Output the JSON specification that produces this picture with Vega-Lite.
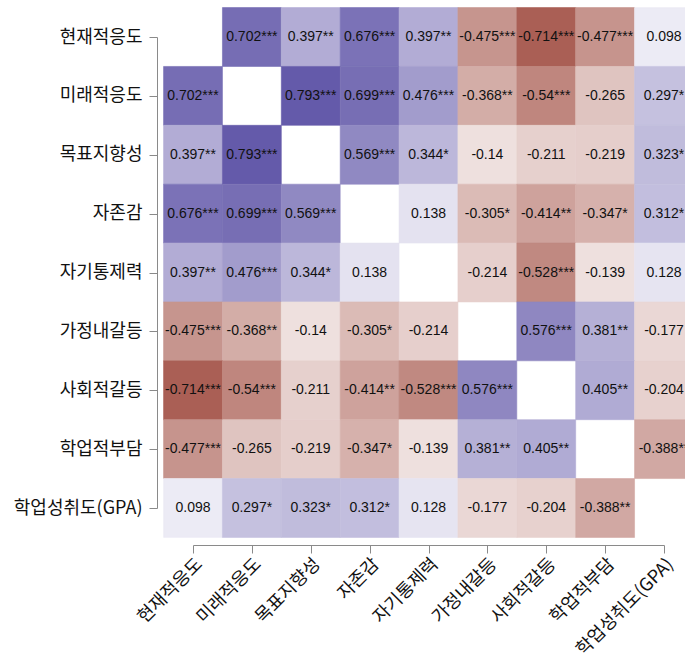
{
  "$schema": "https://vega.github.io/schema/vega-lite/v6.json",
  "width": 471,
  "height": 471,
  "autosize": {"type": "none"},
  "padding": {"left": 193, "top": 37, "right": 21, "bottom": 153},
  "background": "white",
  "config": {"view": {"stroke": null}},
  "data": {"values": [
    {"r": "현재적응도", "c": "미래적응도", "v": 0.702, "t": "0.702***"},
    {"r": "현재적응도", "c": "목표지향성", "v": 0.397, "t": "0.397**"},
    {"r": "현재적응도", "c": "자존감", "v": 0.676, "t": "0.676***"},
    {"r": "현재적응도", "c": "자기통제력", "v": 0.397, "t": "0.397**"},
    {"r": "현재적응도", "c": "가정내갈등", "v": -0.475, "t": "-0.475***"},
    {"r": "현재적응도", "c": "사회적갈등", "v": -0.714, "t": "-0.714***"},
    {"r": "현재적응도", "c": "학업적부담", "v": -0.477, "t": "-0.477***"},
    {"r": "현재적응도", "c": "학업성취도(GPA)", "v": 0.098, "t": "0.098"},
    {"r": "미래적응도", "c": "현재적응도", "v": 0.702, "t": "0.702***"},
    {"r": "미래적응도", "c": "목표지향성", "v": 0.793, "t": "0.793***"},
    {"r": "미래적응도", "c": "자존감", "v": 0.699, "t": "0.699***"},
    {"r": "미래적응도", "c": "자기통제력", "v": 0.476, "t": "0.476***"},
    {"r": "미래적응도", "c": "가정내갈등", "v": -0.368, "t": "-0.368**"},
    {"r": "미래적응도", "c": "사회적갈등", "v": -0.54, "t": "-0.54***"},
    {"r": "미래적응도", "c": "학업적부담", "v": -0.265, "t": "-0.265"},
    {"r": "미래적응도", "c": "학업성취도(GPA)", "v": 0.297, "t": "0.297*"},
    {"r": "목표지향성", "c": "현재적응도", "v": 0.397, "t": "0.397**"},
    {"r": "목표지향성", "c": "미래적응도", "v": 0.793, "t": "0.793***"},
    {"r": "목표지향성", "c": "자존감", "v": 0.569, "t": "0.569***"},
    {"r": "목표지향성", "c": "자기통제력", "v": 0.344, "t": "0.344*"},
    {"r": "목표지향성", "c": "가정내갈등", "v": -0.14, "t": "-0.14"},
    {"r": "목표지향성", "c": "사회적갈등", "v": -0.211, "t": "-0.211"},
    {"r": "목표지향성", "c": "학업적부담", "v": -0.219, "t": "-0.219"},
    {"r": "목표지향성", "c": "학업성취도(GPA)", "v": 0.323, "t": "0.323*"},
    {"r": "자존감", "c": "현재적응도", "v": 0.676, "t": "0.676***"},
    {"r": "자존감", "c": "미래적응도", "v": 0.699, "t": "0.699***"},
    {"r": "자존감", "c": "목표지향성", "v": 0.569, "t": "0.569***"},
    {"r": "자존감", "c": "자기통제력", "v": 0.138, "t": "0.138"},
    {"r": "자존감", "c": "가정내갈등", "v": -0.305, "t": "-0.305*"},
    {"r": "자존감", "c": "사회적갈등", "v": -0.414, "t": "-0.414**"},
    {"r": "자존감", "c": "학업적부담", "v": -0.347, "t": "-0.347*"},
    {"r": "자존감", "c": "학업성취도(GPA)", "v": 0.312, "t": "0.312*"},
    {"r": "자기통제력", "c": "현재적응도", "v": 0.397, "t": "0.397**"},
    {"r": "자기통제력", "c": "미래적응도", "v": 0.476, "t": "0.476***"},
    {"r": "자기통제력", "c": "목표지향성", "v": 0.344, "t": "0.344*"},
    {"r": "자기통제력", "c": "자존감", "v": 0.138, "t": "0.138"},
    {"r": "자기통제력", "c": "가정내갈등", "v": -0.214, "t": "-0.214"},
    {"r": "자기통제력", "c": "사회적갈등", "v": -0.528, "t": "-0.528***"},
    {"r": "자기통제력", "c": "학업적부담", "v": -0.139, "t": "-0.139"},
    {"r": "자기통제력", "c": "학업성취도(GPA)", "v": 0.128, "t": "0.128"},
    {"r": "가정내갈등", "c": "현재적응도", "v": -0.475, "t": "-0.475***"},
    {"r": "가정내갈등", "c": "미래적응도", "v": -0.368, "t": "-0.368**"},
    {"r": "가정내갈등", "c": "목표지향성", "v": -0.14, "t": "-0.14"},
    {"r": "가정내갈등", "c": "자존감", "v": -0.305, "t": "-0.305*"},
    {"r": "가정내갈등", "c": "자기통제력", "v": -0.214, "t": "-0.214"},
    {"r": "가정내갈등", "c": "사회적갈등", "v": 0.576, "t": "0.576***"},
    {"r": "가정내갈등", "c": "학업적부담", "v": 0.381, "t": "0.381**"},
    {"r": "가정내갈등", "c": "학업성취도(GPA)", "v": -0.177, "t": "-0.177"},
    {"r": "사회적갈등", "c": "현재적응도", "v": -0.714, "t": "-0.714***"},
    {"r": "사회적갈등", "c": "미래적응도", "v": -0.54, "t": "-0.54***"},
    {"r": "사회적갈등", "c": "목표지향성", "v": -0.211, "t": "-0.211"},
    {"r": "사회적갈등", "c": "자존감", "v": -0.414, "t": "-0.414**"},
    {"r": "사회적갈등", "c": "자기통제력", "v": -0.528, "t": "-0.528***"},
    {"r": "사회적갈등", "c": "가정내갈등", "v": 0.576, "t": "0.576***"},
    {"r": "사회적갈등", "c": "학업적부담", "v": 0.405, "t": "0.405**"},
    {"r": "사회적갈등", "c": "학업성취도(GPA)", "v": -0.204, "t": "-0.204"},
    {"r": "학업적부담", "c": "현재적응도", "v": -0.477, "t": "-0.477***"},
    {"r": "학업적부담", "c": "미래적응도", "v": -0.265, "t": "-0.265"},
    {"r": "학업적부담", "c": "목표지향성", "v": -0.219, "t": "-0.219"},
    {"r": "학업적부담", "c": "자존감", "v": -0.347, "t": "-0.347*"},
    {"r": "학업적부담", "c": "자기통제력", "v": -0.139, "t": "-0.139"},
    {"r": "학업적부담", "c": "가정내갈등", "v": 0.381, "t": "0.381**"},
    {"r": "학업적부담", "c": "사회적갈등", "v": 0.405, "t": "0.405**"},
    {"r": "학업적부담", "c": "학업성취도(GPA)", "v": -0.388, "t": "-0.388**"},
    {"r": "학업성취도(GPA)", "c": "현재적응도", "v": 0.098, "t": "0.098"},
    {"r": "학업성취도(GPA)", "c": "미래적응도", "v": 0.297, "t": "0.297*"},
    {"r": "학업성취도(GPA)", "c": "목표지향성", "v": 0.323, "t": "0.323*"},
    {"r": "학업성취도(GPA)", "c": "자존감", "v": 0.312, "t": "0.312*"},
    {"r": "학업성취도(GPA)", "c": "자기통제력", "v": 0.128, "t": "0.128"},
    {"r": "학업성취도(GPA)", "c": "가정내갈등", "v": -0.177, "t": "-0.177"},
    {"r": "학업성취도(GPA)", "c": "사회적갈등", "v": -0.204, "t": "-0.204"},
    {"r": "학업성취도(GPA)", "c": "학업적부담", "v": -0.388, "t": "-0.388**"}
  ]},
  "encoding": {
    "x": {
      "field": "c", "type": "nominal",
      "sort": ["현재적응도", "미래적응도", "목표지향성", "자존감", "자기통제력", "가정내갈등", "사회적갈등", "학업적부담", "학업성취도(GPA)"],
      "scale": {"type": "point", "padding": 0},
      "axis": {
        "title": null, "orient": "bottom", "offset": 37, "grid": false,
        "domainColor": "#8a8a8a", "tickColor": "#8a8a8a", "tickSize": 8,
        "labelAngle": -45, "labelAlign": "right", "labelBaseline": "top",
        "labelPadding": 2, "labelFont": "Noto Sans CJK KR", "labelFontSize": 18,
        "labelColor": "#111111"
      }
    },
    "y": {
      "field": "r", "type": "nominal",
      "sort": ["현재적응도", "미래적응도", "목표지향성", "자존감", "자기통제력", "가정내갈등", "사회적갈등", "학업적부담", "학업성취도(GPA)"],
      "scale": {"type": "point", "padding": 0},
      "axis": {
        "title": null, "orient": "left", "offset": 36, "grid": false,
        "domainColor": "#8a8a8a", "tickColor": "#8a8a8a", "tickSize": 8,
        "labelPadding": 7, "labelFont": "Noto Sans CJK KR", "labelFontSize": 18,
        "labelColor": "#111111"
      }
    }
  },
  "layer": [
    {
      "mark": {"type": "square", "size": 3466, "filled": true, "opacity": 1, "strokeWidth": 0.6},
      "encoding": {
        "color": {
          "field": "v", "type": "quantitative",
          "scale": {"domain": [-1, 0, 1], "range": ["#881f11", "#ffffff", "#3c2f94"], "interpolate": "rgb"},
          "legend": null
        },
        "stroke": {
          "field": "v", "type": "quantitative",
          "scale": {"domain": [-1, 0, 1], "range": ["#881f11", "#ffffff", "#3c2f94"], "interpolate": "rgb"},
          "legend": null
        }
      }
    },
    {
      "mark": {"type": "text", "font": "Liberation Sans", "fontSize": 14, "color": "#111111"},
      "encoding": {"text": {"field": "t", "type": "nominal"}}
    }
  ]
}
